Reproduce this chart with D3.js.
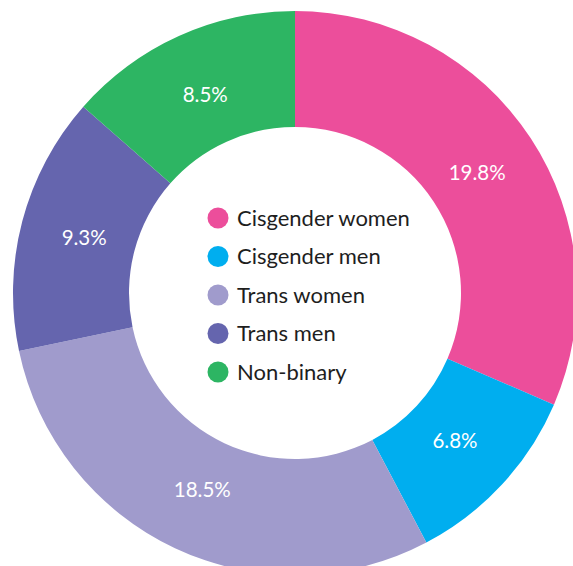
<!DOCTYPE html>
<html>
<head>
<meta charset="utf-8">
<script src="https://cdn.jsdelivr.net/npm/d3@7"></script>
<style>
  body { margin: 0; background: #fff; }
</style>
</head>
<body>
<svg class="chart"></svg>
<script>
var groups = ["Cisgender women", "Cisgender men", "Trans women", "Trans men", "Non-binary"];
var shares = [19.8, 6.8, 18.5, 9.3, 8.5];
var colors = ["#ec4e9b", "#00aeef", "#a09bcc", "#6565ae", "#2db563"];

var width = 573, height = 566;
var cx = 295, cy = 293;
var outerR = 282, innerR = 166;

var svg = d3.select("svg.chart").attr("width", width).attr("height", height);

var pie = d3.pie().sort(null).value(function (d) { return d.value; });
var arc = d3.arc().innerRadius(innerR).outerRadius(outerR);
// labels sit a little inside the middle of the band
var labelArc = d3.arc().innerRadius(218).outerRadius(218);

var data = groups.map(function (g, i) {
  return { name: g, value: shares[i], color: colors[i] };
});

var ring = svg.append("g")
  .attr("transform", "translate(" + cx + "," + cy + ")");

var slices = ring.selectAll("g.slice")
  .data(pie(data))
  .enter()
  .append("g")
  .attr("class", "slice");

slices.append("path")
  .attr("d", arc)
  .attr("fill", function (d) { return d.data.color; });

// percentage labels
slices.append("text")
  .attr("transform", function (d) { return "translate(" + labelArc.centroid(d) + ")"; })
  .attr("text-anchor", "middle")
  .attr("dy", "0.35em")
  .attr("font-family", "Lato")
  .attr("font-size", "20.5px")
  .attr("fill", "#fff")
  .text(function (d) { return d.data.value.toFixed(1) + "%"; });

// legend in the hole
var legend = svg.append("g")
  .attr("transform", "translate(218,218)");

var rows = legend.selectAll("g.row")
  .data(data)
  .enter()
  .append("g")
  .attr("class", "row")
  .attr("transform", function (d, i) { return "translate(0," + (i * 38.5) + ")"; });

rows.append("circle")
  .attr("r", 10.5)
  .attr("fill", function (d) { return d.color; });

rows.append("text")
  .attr("x", 19)
  .attr("dy", "0.36em")
  .attr("font-family", "Lato")
  .attr("font-size", "22px")
  .attr("fill", "#1e1e1e")
  .text(function (d) { return d.name; });
</script>
</body>
</html>
